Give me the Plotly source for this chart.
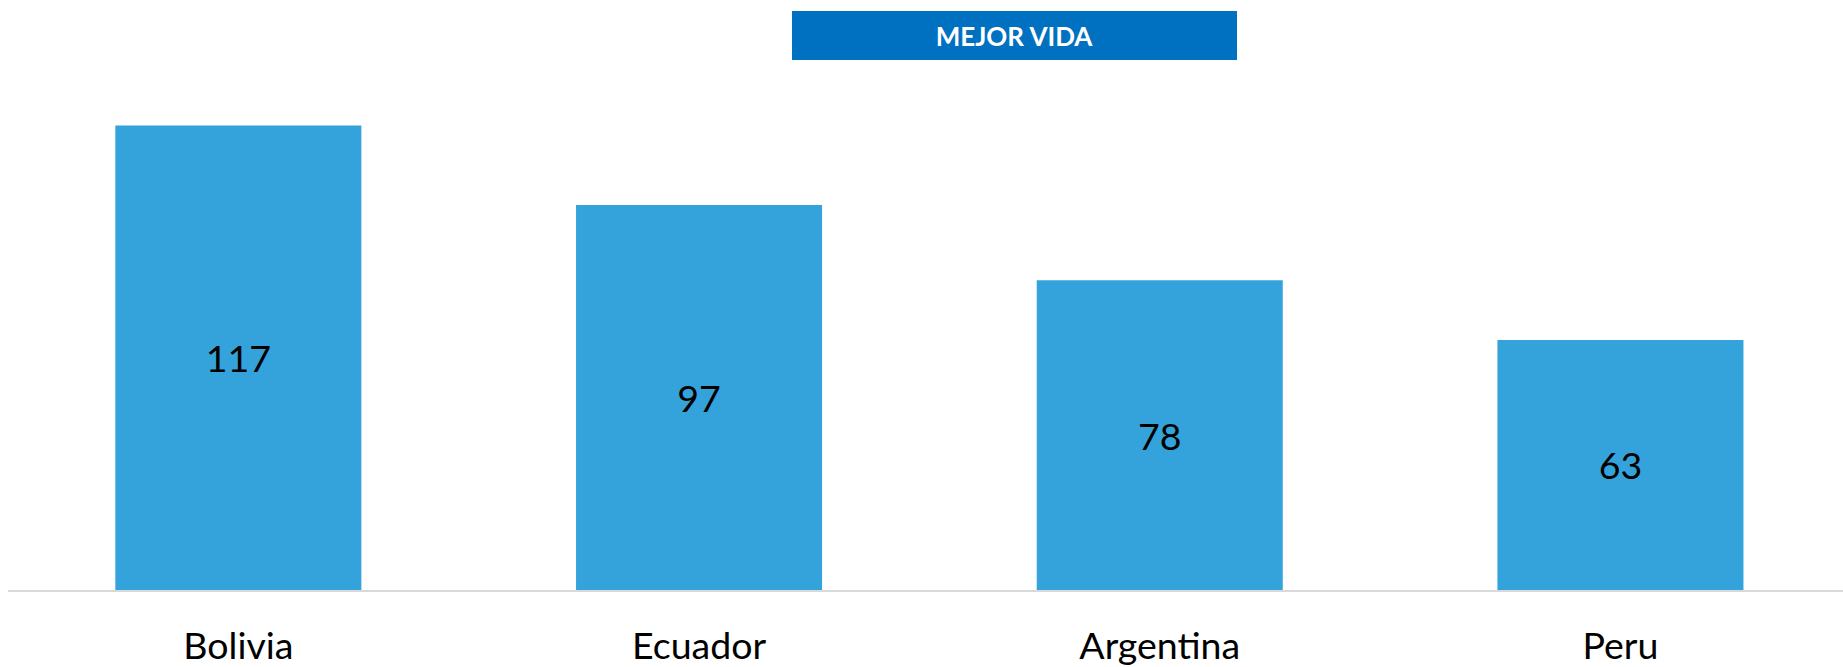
import plotly.graph_objects as go

categories = ["Bolivia", "Ecuador", "Argentina", "Peru"]
values = [117, 97, 78, 63]
title_text = "MEJOR VIDA"

BAR_COLOR = "#34A3DB"
BOX_COLOR = "#0070C0"
FONT = "Lato"

fig = go.Figure(
    go.Bar(
        x=categories,
        y=values,
        marker=dict(color=BAR_COLOR, line=dict(width=0)),
        text=[str(v) for v in values],
        textposition="inside",
        insidetextanchor="middle",
        textangle=0,
        textfont=dict(family=FONT, size=37.5, color="#000000"),
        cliponaxis=False,
        hoverinfo="skip",
    )
)

W, H = 1843, 667
ML, MR, MT, MB = 8, 0, 60, 77
plot_w = W - ML - MR
plot_h = H - MT - MB

fig.update_layout(
    width=W,
    height=H,
    margin=dict(l=ML, r=MR, t=MT, b=MB, pad=0, autoexpand=False),
    paper_bgcolor="white",
    plot_bgcolor="white",
    bargap=0.466,
    showlegend=False,
    font=dict(family=FONT, color="#000000"),
    uniformtext=dict(mode=False),
)

fig.update_xaxes(
    range=[-0.5, -0.5 + plot_w / 460.7],
    automargin=False,
    showline=True,
    linecolor="#D9D9D9",
    linewidth=1.5,
    showgrid=False,
    zeroline=False,
    ticks="outside",
    ticklen=22,
    tickcolor="rgba(0,0,0,0)",
    tickfont=dict(family=FONT, size=37.5, color="#000000"),
    fixedrange=True,
)
fig.update_yaxes(
    range=[0, plot_h / 3.97],
    automargin=False,
    visible=False,
    showgrid=False,
    zeroline=False,
    fixedrange=True,
)

# Title box
box_cx = (792 + 1237) / 2
box_cy = (11 + 60) / 2
fig.add_annotation(
    text="<b>" + title_text + "</b>",
    xref="paper",
    yref="paper",
    x=(box_cx - ML) / plot_w,
    y=1 + (MT - box_cy) / plot_h,
    xanchor="center",
    yanchor="middle",
    width=445,
    height=49,
    bgcolor=BOX_COLOR,
    borderpad=0,
    borderwidth=0,
    showarrow=False,
    font=dict(family=FONT, size=26, color="white"),
    align="center",
    valign="middle",
)

fig.write_html(
    "out.html",
    config={"displayModeBar": False},
    post_script="document.body.style.margin='0';",
)
